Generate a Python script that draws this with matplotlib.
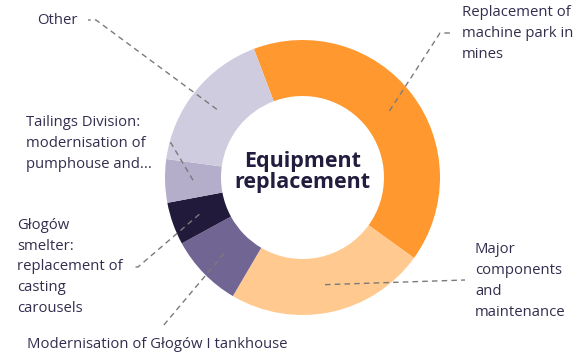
import numpy as np
import matplotlib
matplotlib.use("Agg")
import matplotlib.pyplot as plt

# Data (share of equipment replacement, %)
categories = [
    "Replacement of\nmachine park in\nmines",
    "Major\ncomponents\nand\nmaintenance",
    "Modernisation of Głogów I tankhouse",
    "Głogów\nsmelter:\nreplacement of\ncasting\ncarousels",
    "Tailings Division:\nmodernisation of\npumphouse and...",
    "Other",
]
values = [40.7, 23.5, 8.6, 5.0, 5.1, 17.1]
colors = ["#FF982E", "#FFC98F", "#716594", "#211A3B", "#B4AECB", "#D0CCDF"]
center_title = "Equipment\nreplacement"

W, H = 587, 357
fig = plt.figure(figsize=(W / 100, H / 100), dpi=100)
ax = fig.add_axes([0, 0, 1, 1])
ax.set_xlim(0, W)
ax.set_ylim(0, H)
ax.set_aspect("equal")
ax.axis("off")

def py(y):  # pixel-from-top to data y
    return H - y

cx, cy = 302.5, py(177.5)
R, ring = 137.5, 56

wedges, _ = ax.pie(values, colors=colors, startangle=110.7, counterclock=False,
                   center=(cx, cy), radius=R,
                   wedgeprops=dict(width=ring, linewidth=0))
ax.set_xlim(0, W)
ax.set_ylim(0, H)

txt_color = "#322E4E"
font = "Open Sans"
fs = 10.7
ax.text(cx, py(172), center_title, ha="center", va="center", fontsize=15.5,
        fontweight="bold", color="#221C3E", family=font, linespacing=1.05)

# label layout: (elbow point, end point, text anchor, ha)
layout = [
    ([(440, 33), (452, 33)], (462, 33.5), "left"),
    ([(465, 280)], (475, 281), "left"),
    ([(163, 326)], (157, 345), "center"),
    ([(138, 267), (133, 267)], (17, 267), "left"),
    ([(171, 143), (166, 143)], (26, 143.5), "left"),
    ([(96, 20), (88, 20)], (37, 20), "left"),
]

rmid = R - ring / 2
for w, label, (pts, tpos, ha) in zip(wedges, categories, layout):
    ang = np.deg2rad((w.theta1 + w.theta2) / 2)
    ax0, ay0 = cx + rmid * np.cos(ang), cy + rmid * np.sin(ang)
    xs = [ax0] + [p[0] for p in pts]
    ys = [ay0] + [py(p[1]) for p in pts]
    ax.plot(xs, ys, color="#7A7A7A", lw=1.0, ls=(0, (4, 3)), solid_capstyle="butt")
    ax.text(tpos[0], py(tpos[1]), label, ha=ha, va="center", fontsize=fs,
            color=txt_color, family=font, linespacing=1.53)

fig.savefig("out.png", dpi=100)
